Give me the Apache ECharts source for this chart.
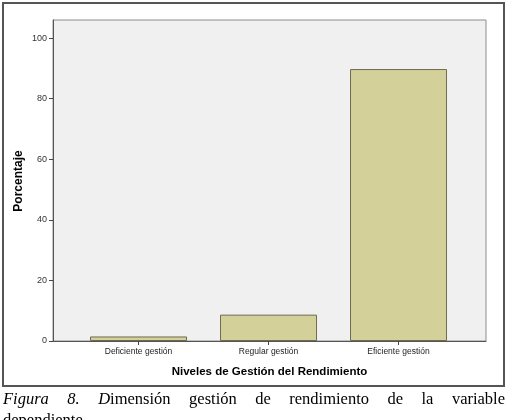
<!DOCTYPE html>
<html>
<head>
<meta charset="utf-8">
<script src="https://cdn.jsdelivr.net/npm/echarts@6/dist/echarts.min.js"></script>
<style>
  html, body { margin: 0; padding: 0; background: #fff; }
  #main { width: 509px; height: 390px; }
  .caption {
    position: absolute; left: 3px; top: 388px; width: 502px; margin: 0;
    font-family: "Liberation Serif", serif; font-size: 16.5px; line-height: 21px;
    color: #000;
  }
  .caption .l1 { text-align: justify; text-align-last: justify; }
</style>
</head>
<body>
<div id="main"></div>
<div class="caption">
  <div class="l1"><i>Figura</i> <i>8.</i> <i>D</i>imensión gestión de rendimiento de la variable</div>
  <div>dependiente</div>
</div>
<script>
// datos
var categories = ["Deficiente gestión", "Regular gestión", "Eficiente gestión"];
var porcentajes = [1.5, 8.7, 89.8];
var yTicks = [0, 20, 40, 60, 80, 100];

var chartDom = document.getElementById("main");
var myChart = echarts.init(chartDom);

var barData = porcentajes.map(function (v, i) { return [i, v]; });

var option = {
  animation: false,
  graphic: [
    {
      type: "rect",
      shape: { x: 3, y: 3, width: 501, height: 383 },
      style: { fill: "none", stroke: "#555", lineWidth: 2 }
    },
    {
      // título del eje Y
      type: "text",
      x: 19,
      y: 181,
      rotation: Math.PI / 2,
      style: {
        text: "Porcentaje",
        fontFamily: "Liberation Sans",
        fontWeight: "bold",
        fontSize: 12,
        fill: "#000",
        align: "center",
        verticalAlign: "middle"
      }
    }
  ],
  grid: {
    left: 53,
    right: 23,
    top: 20,
    bottom: 49,
    show: true,
    backgroundColor: "#f0f0f0",
    borderColor: "#8c8c8c",
    borderWidth: 1
  },
  xAxis: {
    type: "value",
    min: -0.658,
    max: 2.673,
    name: "Niveles de Gestión del Rendimiento",
    nameLocation: "middle",
    nameGap: 25,
    nameTextStyle: { fontFamily: "Liberation Sans", fontWeight: "bold", fontSize: 11.5, color: "#000" },
    axisLine: { show: true, onZero: false, lineStyle: { color: "#555", width: 1 } },
    axisTick: { show: true, customValues: [0, 1, 2], length: 4, lineStyle: { color: "#444" } },
    axisLabel: {
      customValues: [0, 1, 2],
      formatter: function (v) { return categories[Math.round(v)]; },
      fontFamily: "Liberation Sans",
      fontSize: 8.5,
      color: "#222",
      margin: 6
    },
    splitLine: { show: false }
  },
  yAxis: {
    type: "value",
    min: 0,
    max: 106,
    axisLine: { show: true, onZero: false, lineStyle: { color: "#555", width: 1 } },
    axisTick: { show: true, customValues: yTicks, length: 4, lineStyle: { color: "#444" } },
    axisLabel: {
      customValues: yTicks,
      fontFamily: "Liberation Sans",
      fontSize: 9,
      color: "#333",
      margin: 6
    },
    splitLine: { show: false }
  },
  series: [
    {
      type: "bar",
      data: barData,
      barWidth: 97,
      itemStyle: {
        color: "#d4d09a",
        borderColor: "#6e6b50",
        borderWidth: 1
      }
    }
  ]
};

myChart.setOption(option);
</script>
</body>
</html>
